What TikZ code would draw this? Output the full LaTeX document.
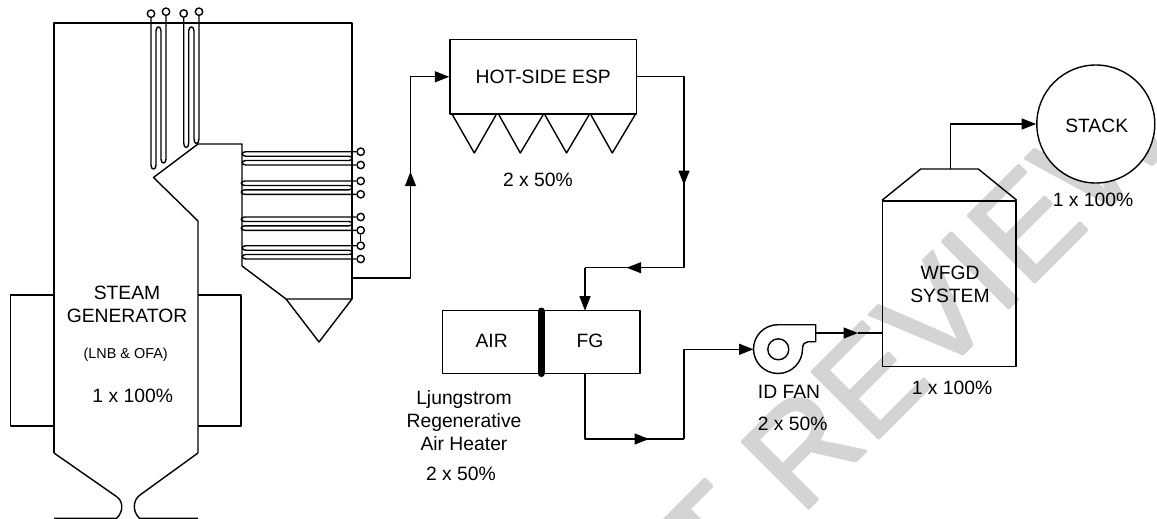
\documentclass[tikz,border=0pt]{standalone}
\usepackage{fontspec}
\setmainfont{Liberation Sans}
\newfontfamily\markfont[FakeBold=1.8]{Liberation Sans}
\usepackage{xcolor}
\usetikzlibrary{arrows.meta}
\definecolor{markgray}{RGB}{212,212,212}
\begin{document}
\begin{tikzpicture}[
  x=1pt, y=-1pt,
  line join=round,
  wall/.style={line width=1.4pt},
  flow/.style={line width=1.4pt, -{Triangle[length=14.5pt,width=11pt]}},
  vessel/.style={rectangle, draw, line width=1.4pt, inner sep=0pt},
  terminal/.style={circle, draw, line width=1.4pt, fill=white, minimum size=7.4pt, inner sep=0pt},
  lbl/.style={font=\fontsize{19.3}{23}\selectfont, align=center, inner sep=0pt},
  smalllbl/.style={font=\fontsize{14.4}{17}\selectfont, align=center, inner sep=0pt},
  watermark/.style={font=\markfont\fontsize{137}{137}\selectfont, text=markgray, rotate=45, anchor=base west, inner sep=0pt}
]
\useasboundingbox (0,0) rectangle (1157,519);
\begin{scope}
\clip (0,0) rectangle (1157,519);
\node[watermark] (draftmark) at (714.5,602.5) {T REVIEW};
\end{scope}

\draw[wall] (54,453) -- (54,23) -- (352,23) -- (352,299);
\draw[wall] (198,453) -- (198,221) -- (153.5,177.5) -- (198,144) -- (242,144) -- (242,266) -- (286,299);
\draw[wall] (286,299) -- (352,299) -- (319,342) -- cycle;
\draw[wall] (54,295) -- (10.5,295) -- (10.5,426) -- (54,426);
\draw[wall] (198,295) -- (241,295) -- (241,426) -- (198,426);
\draw[wall] (54,453) -- (116.7,496.7) .. controls (123,501) and (124,511) .. (116.7,518.3) -- (54,518.3);
\draw[wall] (198,453) -- (140,495) .. controls (133,500) and (132,511) .. (139.5,518.3) -- (198,518.3);

\node[terminal] (roof1) at (151,13.7) {};
\node[terminal] (roof2) at (166,11.7) {};
\node[terminal] (roof3) at (183.7,13.5) {};
\node[terminal] (roof4) at (199,11.7) {};
\draw[wall] (roof1) -- (151,165) .. controls +(0,5.5) and +(0,5.5) .. (156,165) -- (156,31) .. controls +(0,-5.5) and +(0,-5.5) .. (161,31) -- (161,159) .. controls +(0,5.5) and +(0,5.5) .. (166,159) -- (roof2);
\draw[wall] (roof3) -- (183.7,143) .. controls +(0,6) and +(0,6) .. (188.7,143) -- (188.7,31) .. controls +(0,-5.5) and +(0,-5.5) .. (194,31) -- (194,139) .. controls +(0,6) and +(0,6) .. (199,139) -- (roof4);

\node[terminal] (back1) at (360.7,151.7) {};
\node[terminal] (back2) at (360.7,165) {};
\node[terminal] (back3) at (360.7,181) {};
\node[terminal] (back4) at (360.7,194.3) {};
\node[terminal] (back5) at (360.7,217) {};
\node[terminal] (back6) at (360.7,230.3) {};
\node[terminal] (back7) at (360.7,245.7) {};
\node[terminal] (back8) at (360.7,259) {};
\draw[wall] (back6) -- (back7);
\draw[wall] (back1) -- (246,151.7) .. controls +(-5,0) and +(-5,0) .. (246,156.2) -- (349,156.2) .. controls +(4,0) and +(4,0) .. (349,160.5) -- (246,160.5) .. controls +(-5,0) and +(-5,0) .. (246,165) -- (back2);
\draw[wall] (back3) -- (245,181) .. controls +(-5,0) and +(-5,0) .. (245,185.5) -- (349,185.5) .. controls +(4,0) and +(4,0) .. (349,189.8) -- (245,189.8) .. controls +(-5,0) and +(-5,0) .. (245,194.3) -- (back4);
\draw[wall] (back5) -- (245,217) .. controls +(-5,0) and +(-5,0) .. (245,221.5) -- (349,221.5) .. controls +(4,0) and +(4,0) .. (349,225.8) -- (245,225.8) .. controls +(-5,0) and +(-5,0) .. (245,230.3) -- (back6);
\draw[wall] (back7) -- (246,245.7) .. controls +(-5,0) and +(-5,0) .. (246,250.2) -- (349,250.2) .. controls +(4,0) and +(4,0) .. (349,254.5) -- (246,254.5) .. controls +(-5,0) and +(-5,0) .. (246,259) -- (back8);

\node[lbl] (steam) at (127,304.5) {STEAM\\GENERATOR};
\node[smalllbl] (burners) at (125.7,355) {(LNB \& OFA)};
\node[lbl] (steamrate) at (132.7,395.7) {1 x 100\%};

\node[vessel, lbl, minimum width=186.5pt, minimum height=74.5pt] (esp) at (543.2,76.8) {HOT-SIDE ESP};
\draw[wall] (452,114) -- (474.3,153) -- (496,115);
\draw[wall] (499,115) -- (520.3,153) -- (543,115);
\draw[wall] (545,115) -- (566.5,153) -- (589,115);
\draw[wall] (591,115) -- (612.3,153) -- (635,115);
\node[lbl] (esprate) at (538,180) {2 x 50\%};

\node[vessel, minimum width=197.7pt, minimum height=62.6pt] (heater) at (541.2,342) {};
\node[lbl] (airside) at (491.7,341) {AIR};
\node[lbl] (gasside) at (590,341) {FG};
\coordinate (sealtop) at (541.3,311);
\coordinate (sealbot) at (541.3,373.5);
\draw[line width=7pt, line cap=round] (sealtop) -- (sealbot);
\node[lbl] (heatername) at (464,421) {Ljungstrom\\Regenerative\\Air Heater};
\node[lbl] (heaterrate) at (461,474) {2 x 50\%};

\node[circle, draw, line width=1.4pt, minimum size=21pt, inner sep=0pt] (fanhub) at (778.3,349.3) {};
\draw[wall] (815.7,324.7) -- (778,324.7) .. controls (764.5,324.7) and (753.5,335.5) .. (753.5,349) .. controls (753.5,362.5) and (764.5,373.5) .. (778,373.5) .. controls (791.5,373.5) and (802.5,362.5) .. (802.5,349) .. controls (802.5,344) and (805,341.7) .. (808,341.7) -- (815.7,341.7) -- cycle;
\node[lbl] (fanname) at (789,392) {ID FAN};
\node[lbl] (fanrate) at (792.7,424) {2 x 50\%};

\node[vessel, minimum width=133.3pt, minimum height=165.7pt] (wfgd) at (949.4,283.8) {};
\draw[wall] (wfgd.north west) -- (920.7,169) -- (978.3,169) -- (wfgd.north east);
\node[lbl] (wfgdname) at (950,284.5) {WFGD\\SYSTEM};
\node[lbl] (wfgdrate) at (952,388) {1 x 100\%};

\node[circle, draw, fill=white, line width=1.4pt, minimum size=118pt, inner sep=0pt] (stack) at (1095.8,124) {};
\node[lbl] (stackname) at (1096.7,126) {STACK};
\node[lbl] (stackrate) at (1093,200) {1 x 100\%};

\coordinate (econout) at (352,278);
\coordinate (risebot) at (410.5,278);
\coordinate (risemid) at (410.5,171.7);
\coordinate (espdrop) at (684,76.8);
\coordinate (dropmid) at (684,185);
\coordinate (dropbot) at (684,267.7);
\coordinate (leftmid) at (626.7,267.7);
\coordinate (heatbend) at (585,267.7);
\coordinate (heatin) at (585,310.7);
\coordinate (heatout) at (585,373.3);
\coordinate (heatlow) at (585,439);
\coordinate (lowmid) at (649,439);
\coordinate (fanbend) at (684,439);
\coordinate (fanin) at (753.5,349.3);
\coordinate (fanout) at (815.7,333);
\coordinate (fanoutmid) at (858,333);
\coordinate (wfgdin) at (882.7,333);
\coordinate (wfgdtop) at (950.3,169);

\draw[wall] (econout) -- (risebot) -- (risemid);
\draw[flow] (risebot) -- (risemid);
\draw[flow] (risemid) |- (esp.west);
\draw[wall] (esp.east) -- (espdrop) -- (dropmid);
\draw[flow] (espdrop) -- (dropmid);
\draw[wall] (dropmid) -- (dropbot) -- (leftmid);
\draw[flow] (dropbot) -- (leftmid);
\draw[wall] (leftmid) -- (heatbend);
\draw[flow] (heatbend) -- (heatin);
\draw[wall] (heatout) -- (heatlow) -- (lowmid);
\draw[flow] (heatlow) -- (lowmid);
\draw[wall] (lowmid) -- (fanbend);
\draw[flow] (fanbend) |- (fanin);
\draw[wall] (fanoutmid) -- (wfgdin);
\draw[flow] (fanout) -- (fanoutmid);
\draw[flow] (wfgdtop) |- (stack.west);
\end{tikzpicture}
\end{document}
